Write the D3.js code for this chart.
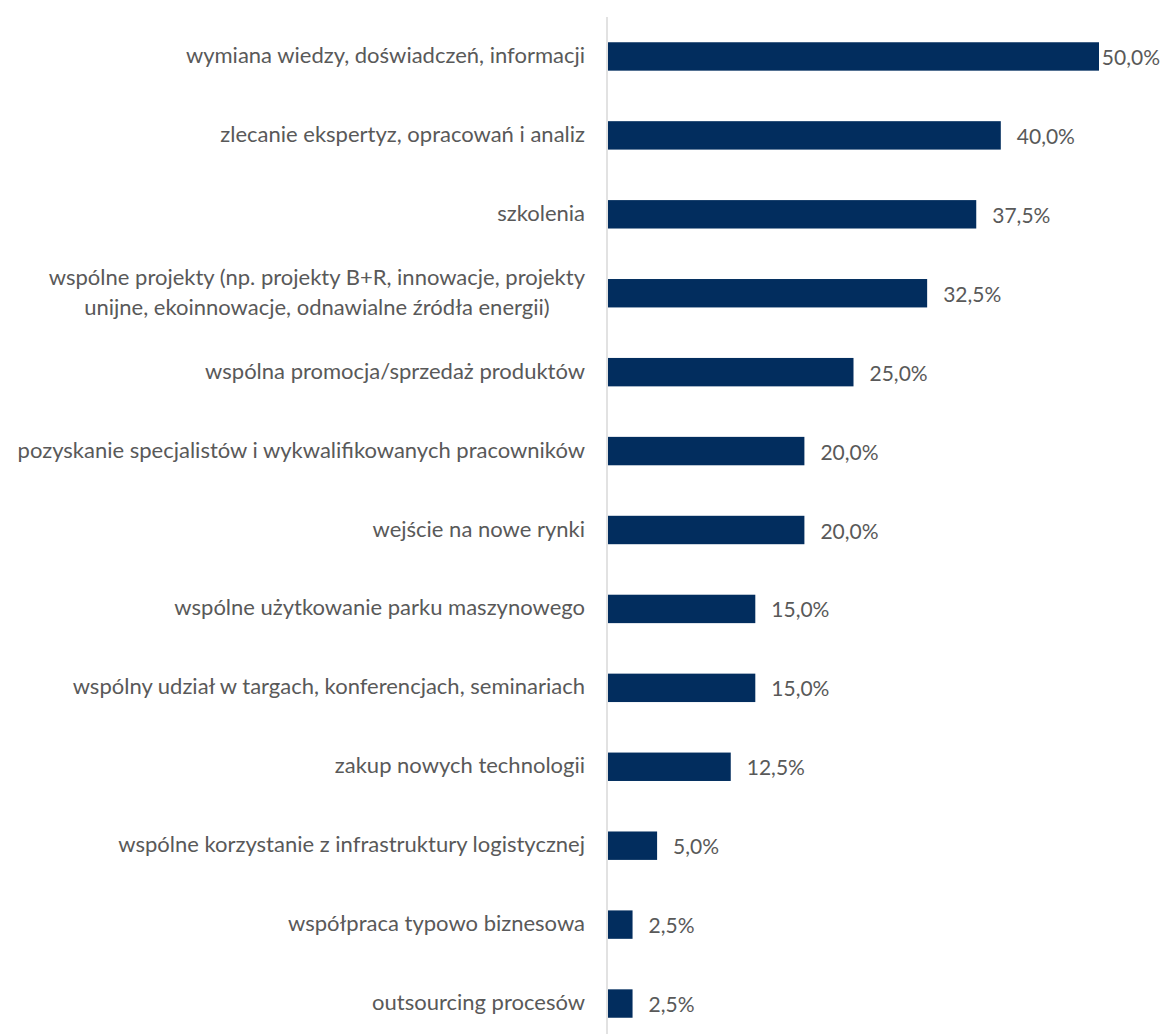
<!DOCTYPE html>
<html lang="pl">
<head>
<meta charset="utf-8">
<script src="https://cdn.jsdelivr.net/npm/d3@7"></script>
<style>
  html, body { margin: 0; padding: 0; background: #ffffff; }
  svg { display: block; }
  text { font-family: Lato, "Open Sans", sans-serif; fill: #595959; }
</style>
</head>
<body>
<svg id="chart" width="1163" height="1034"></svg>
<script>
// Forms of cooperation, share of responses (%)
const categories = [
  ["wymiana wiedzy, doświadczeń, informacji"],
  ["zlecanie ekspertyz, opracowań i analiz"],
  ["szkolenia"],
  ["wspólne projekty (np. projekty B+R, innowacje, projekty", "unijne, ekoinnowacje, odnawialne źródła energii)"],
  ["wspólna promocja/sprzedaż produktów"],
  ["pozyskanie specjalistów i wykwalifikowanych pracowników"],
  ["wejście na nowe rynki"],
  ["wspólne użytkowanie parku maszynowego"],
  ["wspólny udział w targach, konferencjach, seminariach"],
  ["zakup nowych technologii"],
  ["wspólne korzystanie z infrastruktury logistycznej"],
  ["współpraca typowo biznesowa"],
  ["outsourcing procesów"]
];
const values = [50.0, 40.0, 37.5, 32.5, 25.0, 20.0, 20.0, 15.0, 15.0, 12.5, 5.0, 2.5, 2.5];
const xDomain = [0, 50];

const W = 1163, H = 1034;
const svg = d3.select("#chart");

const keys = categories.map(c => c.join(" "));

const x = d3.scaleLinear().domain(xDomain).range([608, 1099]);
const y = d3.scaleBand().domain(keys).range([17, 1043]).paddingInner(0.64).paddingOuter(0.32);

const fmt = v => d3.format(".1f")(v).replace(".", ",") + "%";

// bars
svg.append("g").selectAll("rect")
  .data(values)
  .join("rect")
  .attr("x", x(0))
  .attr("y", (d, i) => y(keys[i]))
  .attr("width", d => x(d) - x(0))
  .attr("height", y.bandwidth())
  .attr("fill", "#022d5e");

// category axis line
svg.append("line")
  .attr("x1", 607).attr("x2", 607)
  .attr("y1", 17).attr("y2", H)
  .attr("stroke", "#d9d9d9")
  .attr("stroke-width", 1.5);

// category labels (right-aligned block, multi-line centred within block)
const labelRight = 585;
const lineGap = 30;
categories.forEach((lines, i) => {
  const cy = y(keys[i]) + y.bandwidth() / 2;
  const g = svg.append("g");
  const texts = lines.map((ln, j) => g.append("text")
    .attr("y", cy + (j - (lines.length - 1) / 2) * lineGap - 2)
    .attr("dominant-baseline", "central")
    .attr("font-size", 22)
    .text(ln));
  const widths = texts.map(t => t.node().getComputedTextLength());
  const maxW = d3.max(widths);
  const center = labelRight - maxW / 2;
  texts.forEach(t => t.attr("x", center).attr("text-anchor", "middle"));
});

// value labels, kept inside the chart area
svg.append("g").selectAll("text")
  .data(values)
  .join("text")
  .attr("y", (d, i) => y(keys[i]) + y.bandwidth() / 2)
  .attr("dominant-baseline", "central")
  .attr("font-size", 21)
  .text(d => fmt(d))
  .each(function(d) {
    const w = this.getComputedTextLength();
    const pos = Math.min(x(d) + 16, W - 3 - w);
    d3.select(this).attr("x", Math.max(pos, x(d) + 2));
  });
</script>
</body>
</html>
